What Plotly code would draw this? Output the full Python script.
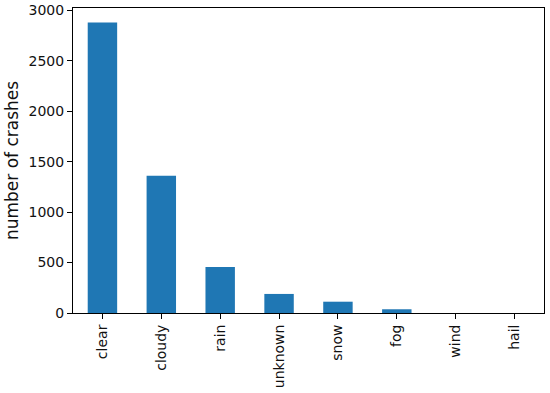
import plotly.graph_objects as go

# weather condition vs crash counts
weather = ['clear', 'cloudy', 'rain', 'unknown', 'snow', 'fog', 'wind', 'hail']
crashes = [2880, 1360, 457, 189, 112, 37, 0, 0]

fig = go.Figure(go.Bar(
    x=weather,
    y=crashes,
    width=0.5,
    marker=dict(color='#1f77b4', line=dict(width=0)),
))

fig.update_layout(
    width=550, height=393,
    margin=dict(l=73, r=6, t=8, b=80),
    paper_bgcolor='white',
    plot_bgcolor='white',
    font=dict(family='DejaVu Sans', size=14, color='#111111'),
    showlegend=False,
    xaxis=dict(
        range=[-0.5, 7.5],
        tickangle=-90,
        automargin=False,
        ticks='outside', ticklen=5, tickcolor='black',
        showline=True, linecolor='black', linewidth=1, mirror=True,
        showgrid=False,
    ),
    yaxis=dict(
        title=dict(text='number of crashes', standoff=5),
        range=[0, 3024],
        tickvals=[0, 500, 1000, 1500, 2000, 2500, 3000],
        automargin=False,
        ticklabeloverflow='allow',
        ticks='outside', ticklen=5, tickcolor='black',
        showline=True, linecolor='black', linewidth=1, mirror=True,
        showgrid=False, zeroline=False,
    ),
)

# drop the default body margin so the figure sits at the page corner
fig.write_html("out.html", config={'displayModeBar': False},
               post_script="document.body.style.margin = '0px';")
